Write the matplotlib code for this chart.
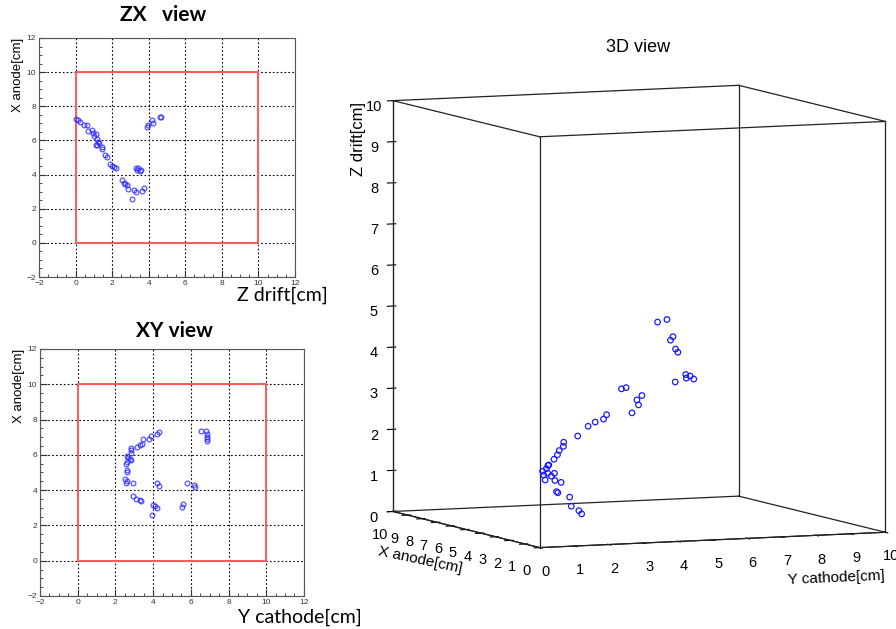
import matplotlib.pyplot as plt
from matplotlib.patches import Rectangle
from matplotlib.ticker import MultipleLocator

plt.rcParams["font.family"] = ["Liberation Sans", "DejaVu Sans"]

# hits [cm]
x_anode = [7.27, 7.20, 7.06, 6.91, 6.89, 6.60, 6.58, 6.43, 6.37, 6.27, 6.10, 5.93,
           5.83, 5.75, 5.71, 5.60, 5.49, 5.15, 5.01, 4.63, 4.51, 4.42, 4.38,
           4.39, 4.24, 4.38, 4.28, 4.20,
           3.67, 3.52, 3.45, 3.40, 3.18, 3.08, 3.00, 2.57, 3.06, 3.24,
           7.35, 7.37, 7.20, 7.03, 6.79, 6.90]
y_cathode = [4.30, 4.19, 3.91, 3.80, 3.45, 3.42, 3.28, 3.17, 2.82, 2.82, 2.82, 2.60,
             2.67, 2.78, 2.85, 2.64, 2.57, 2.60, 2.64, 2.53, 2.60, 2.57, 2.96,
             4.23, 4.30, 5.78, 6.17, 6.24,
             2.96, 3.10, 3.31, 3.38, 4.02, 4.12, 4.23, 3.95, 5.54, 5.60,
             6.53, 6.81, 6.84, 6.84, 6.88, 6.86]
z_drift = [0.02, 0.11, 0.24, 0.48, 0.60, 0.88, 0.66, 0.95, 1.10, 0.99, 1.17, 1.24,
           1.31, 1.13, 1.20, 1.42, 1.42, 1.60, 1.72, 1.86, 1.97, 2.08, 2.22,
           3.32, 3.36, 3.43, 3.57, 3.50,
           2.52, 2.63, 2.70, 2.81, 2.85, 3.17, 3.28, 3.10, 3.65, 3.72,
           4.60, 4.65, 4.16, 4.26, 3.90, 3.97]

# detector volume and view range
box_lo, box_hi = 0, 10
view_lo, view_hi = -2, 12

hit_style = dict(marker="o", ls="none", ms=3.4, mfc="none", mec="#2b2bff", mew=0.9, alpha=0.8)
title_font = ["Lato", "DejaVu Sans"]

fig = plt.figure(figsize=(8.96, 6.29), dpi=100)


def proj_panel(rect, hx, hy):
    ax = fig.add_axes(rect)
    ax.set_xlim(view_lo, view_hi)
    ax.set_ylim(view_lo, view_hi)
    ax.xaxis.set_major_locator(MultipleLocator(2))
    ax.yaxis.set_major_locator(MultipleLocator(2))
    ax.xaxis.set_minor_locator(MultipleLocator(0.5))
    ax.yaxis.set_minor_locator(MultipleLocator(0.5))
    ax.tick_params(which="both", direction="in", labelsize=6, colors="#333333", pad=2)
    ax.tick_params(which="major", length=5)
    ax.tick_params(which="minor", length=2.5)
    ax.grid(True, color="k", ls=(0, (1.5, 2)), lw=0.8)
    for s in ax.spines.values():
        s.set_color("#555555")
        s.set_linewidth(0.8)
    ax.add_patch(Rectangle((box_lo, box_lo), box_hi - box_lo, box_hi - box_lo,
                           fill=False, ec="#ff5a5a", lw=1.4, zorder=3))
    ax.plot(hx, hy, zorder=4, **hit_style)
    ax.set_ylabel("X anode[cm]", loc="top", fontsize=9.5, labelpad=2)
    return ax


proj_panel([0.0435, 0.5596, 0.2857, 0.380], z_drift, x_anode)
proj_panel([0.0446, 0.0525, 0.2946, 0.3927], y_cathode, x_anode)

fig.text(0.182, 0.976, "ZX   view", family=title_font, weight="bold",
         fontsize=15, ha="center", va="center")
fig.text(0.195, 0.474, "XY view", family=title_font, weight="bold",
         fontsize=15, ha="center", va="center")
fig.text(0.366, 0.530, "Z drift[cm]", family=title_font, fontsize=14,
         ha="right", va="center")
fig.text(0.404, 0.018, "Y cathode[cm]", family=title_font, fontsize=14,
         ha="right", va="center")

# 3D view
ax3 = fig.add_axes([0.39, 0.045, 0.63, 0.88], projection="3d")
ax3.set_proj_type("ortho")
ax3.view_init(elev=6, azim=-113)
ax3.set_xlim(box_lo, box_hi)
ax3.set_ylim(box_lo, box_hi)
ax3.set_zlim(box_lo, box_hi)
ax3.set_box_aspect((1, 1, 1.1), zoom=1.18)
ax3.grid(False)
for axis in (ax3.xaxis, ax3.yaxis, ax3.zaxis):
    axis.set_pane_color((1, 1, 1, 0))
    axis.set_major_locator(MultipleLocator(1))
ax3.tick_params(labelsize=10.5, pad=0)

for a in (box_lo, box_hi):
    for b in (box_lo, box_hi):
        ax3.plot([box_lo, box_hi], [a, a], [b, b], color="#222222", lw=0.9)
        ax3.plot([a, a], [box_lo, box_hi], [b, b], color="#222222", lw=0.9)
        ax3.plot([a, a], [b, b], [box_lo, box_hi], color="#222222", lw=0.9)

ax3.scatter(y_cathode, x_anode, z_drift, marker="o", facecolors="none",
            edgecolors="#1a1aff", s=16, linewidths=0.9, depthshade=False)

fig.text(0.712, 0.925, "3D view", fontsize=13, ha="center", va="center")
fig.text(0.400, 0.779, "Z drift[cm]", fontsize=12, rotation=90, ha="center", va="center")
fig.text(0.469, 0.110, "X anode[cm]", fontsize=11, rotation=-12, ha="center", va="center")
fig.text(0.988, 0.081, "Y cathode[cm]", fontsize=11, rotation=2.5, ha="right", va="center")

fig.savefig("out.png", dpi=100)
